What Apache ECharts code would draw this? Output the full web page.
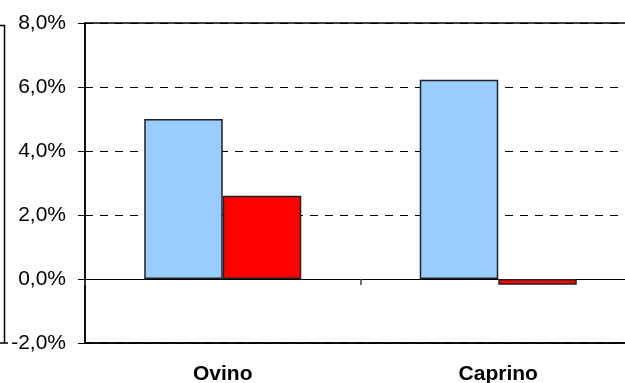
<!DOCTYPE html>
<html>
<head>
<meta charset="utf-8">
<script src="https://cdn.jsdelivr.net/npm/echarts@6/dist/echarts.min.js"></script>
<style>html,body{margin:0;padding:0;background:#fff;overflow:hidden}#c{width:625px;height:383px}</style>
</head>
<body>
<div id="c"></div>
<script>
const categories = ['Ovino', 'Caprino'];
const seriesBlue = [5.0, 6.23];
const seriesRed = [2.6, -0.18];
const yTicks = [-2, 0, 2, 4, 6, 8];

const chart = echarts.init(document.getElementById('c'), null, {renderer: 'canvas'});
const fmt = v => v.toFixed(1).replace('.', ',') + '%';
chart.setOption({
  animation: false,
  backgroundColor: '#fff',
  grid: {left: 85, top: 23, width: 551, height: 320, outerBoundsMode: 'none', containLabel: false,
         show: true, borderColor: '#000', borderWidth: 1.5, backgroundColor: 'transparent'},
  xAxis: [
    {
      type: 'category', data: categories, position: 'bottom',
      axisLine: {onZero: false, show: true, lineStyle: {color: '#000', width: 1.5}},
      axisTick: {show: false},
      axisLabel: {color: '#000', fontFamily: 'Liberation Sans, Arial', fontWeight: 'bold', fontSize: 21, margin: 21},
      splitLine: {show: false}
    },
    {
      type: 'category', data: categories, position: 'top',
      axisLine: {onZero: true, show: true, lineStyle: {color: '#000', width: 1}},
      axisTick: {show: true, inside: true, length: 6, lineStyle: {color: '#444', width: 1.5}},
      axisLabel: {show: false},
      splitLine: {show: false}
    }
  ],
  yAxis: {
    type: 'value', min: yTicks[0], max: yTicks[yTicks.length - 1], interval: 2,
    axisLine: {show: true, lineStyle: {color: '#000', width: 1.5}},
    axisTick: {show: true, length: 7, lineStyle: {color: '#000', width: 1}},
    axisLabel: {color: '#000', fontFamily: 'Liberation Sans, Arial', fontSize: 21, margin: 19, formatter: fmt},
    splitLine: {show: true, lineStyle: {color: '#000', width: 1, type: [8, 7]}}
  },
  series: [
    {type: 'bar', data: seriesBlue, xAxisIndex: 0, barGap: '0%', barCategoryGap: '43%',
     itemStyle: {color: '#99CCFF', borderColor: '#222', borderWidth: 1.5}},
    {type: 'bar', data: seriesRed, xAxisIndex: 0, barGap: '0%', barCategoryGap: '43%',
     itemStyle: {color: '#FF0000', borderColor: '#222', borderWidth: 1.5}}
  ],
  graphic: [
    {type: 'polyline', shape: {points: [[0, 25.5], [4.5, 25.5], [4.5, 343], [0, 343]]}, style: {stroke: '#000', lineWidth: 1.5, fill: null}},
    {type: 'line', shape: {x1: 4.5, y1: 343, x2: 8, y2: 343}, style: {stroke: '#000', lineWidth: 1.5}}
  ]
});
</script>
</body>
</html>
